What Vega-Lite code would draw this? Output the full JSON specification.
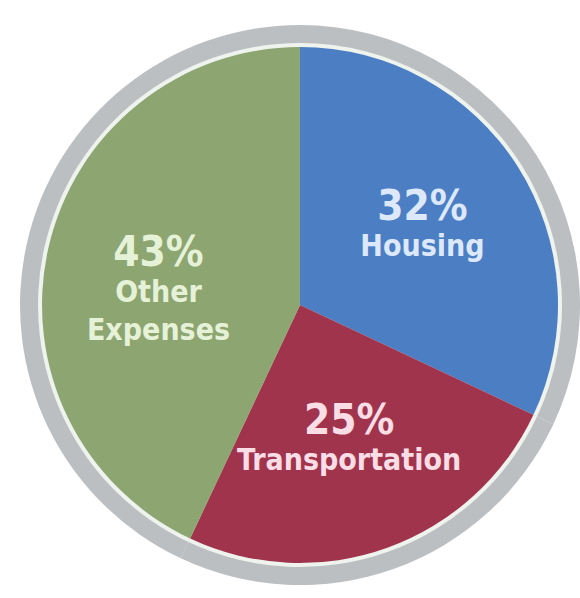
{
  "$schema": "https://vega.github.io/schema/vega-lite/v6.json",
  "width": 560,
  "height": 586,
  "autosize": "none",
  "padding": {"left": 20, "top": 12, "right": 0, "bottom": 0},
  "background": "#ffffff",
  "config": {"view": {"stroke": null}},
  "data": {
    "values": [
      {"category": "Housing", "share": 32, "pct": "32%", "seq": 1},
      {"category": "Transportation", "share": 25, "pct": "25%", "seq": 2},
      {"category": "Other Expenses", "share": 43, "pct": "43%", "seq": 3}
    ]
  },
  "encoding": {
    "theta": {"field": "share", "type": "quantitative", "stack": true},
    "order": {"field": "seq", "type": "ordinal"}
  },
  "layer": [
    {
      "mark": {"type": "arc", "outerRadius": 280, "fill": "#bcbfc2", "stroke": null}
    },
    {
      "mark": {"type": "arc", "outerRadius": 262, "fill": "#eef3ee", "stroke": null}
    },
    {
      "mark": {"type": "arc", "outerRadius": 258, "stroke": null},
      "encoding": {
        "color": {
          "field": "category",
          "type": "nominal",
          "scale": {
            "domain": ["Housing", "Transportation", "Other Expenses"],
            "range": ["#4c7ec3", "#a1344d", "#8ca571"]
          },
          "legend": null
        }
      }
    },
    {
      "mark": {
        "type": "text",
        "radius": 145,
        "font": "'DejaVu Sans Condensed', 'Liberation Sans Narrow', 'Liberation Sans', sans-serif",
        "fontWeight": "bold",
        "fontSize": 42,
        "baseline": "alphabetic",
        "dy": -7
      },
      "encoding": {
        "text": {"field": "pct"},
        "color": {
          "field": "category",
          "type": "nominal",
          "scale": {
            "domain": ["Housing", "Transportation", "Other Expenses"],
            "range": ["#dde9fb", "#fbdde6", "#e6f2d8"]
          },
          "legend": null
        }
      }
    },
    {
      "mark": {
        "type": "text",
        "radius": 145,
        "font": "'DejaVu Sans Condensed', 'Liberation Sans Narrow', 'Liberation Sans', sans-serif",
        "fontWeight": "bold",
        "fontSize": 30,
        "baseline": "top",
        "dy": 5,
        "lineBreak": " ",
        "lineHeight": 38
      },
      "encoding": {
        "text": {"field": "category"},
        "color": {
          "field": "category",
          "type": "nominal",
          "scale": {
            "domain": ["Housing", "Transportation", "Other Expenses"],
            "range": ["#dde9fb", "#fbdde6", "#e6f2d8"]
          },
          "legend": null
        }
      }
    }
  ],
  "resolve": {"scale": {"color": "independent"}}
}
